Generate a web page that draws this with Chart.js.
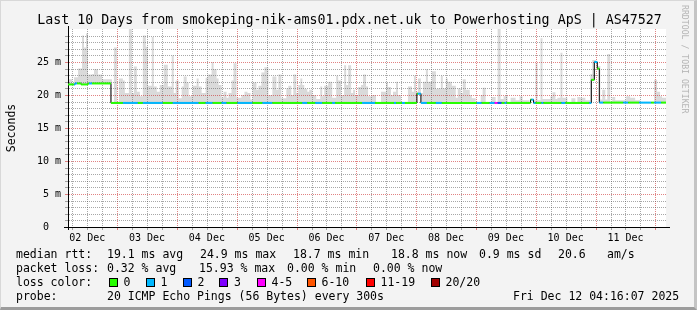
<!DOCTYPE html>
<html>
<head>
<meta charset="utf-8">
<script src="https://cdn.jsdelivr.net/npm/chart.js@4/dist/chart.umd.min.js"></script>
<style>
  body { margin: 0; background: #fff; }
  #wrap {
    position: relative; width: 697px; height: 310px; overflow: hidden;
    background: #f3f3f3; box-sizing: border-box;
    border-left: 1px solid #d8d8d8; border-top: 1px solid #d8d8d8;
    border-right: 3px solid #c4c4c4; border-bottom: 3px solid #9c9c9c;
    font-family: "DejaVu Sans Mono", monospace; color: #000;
  }
  #c { position: absolute; left: -1px; top: -1px; }
  .txt { position: absolute; white-space: pre; font-size: 11.5px; line-height: 14px; }
  .title { position: absolute; left: 0; width: 697px; top: 10px; text-align: center;
           font-size: 13.3px; line-height: 18px; white-space: pre; }
  .credit { position: absolute; left: 688px; top: 4px; transform-origin: 0 0; transform: rotate(90deg);
            font-size: 8.2px; color: #b4b4b4; white-space: pre; line-height: 9px; }
  .box { position: absolute; width: 7px; height: 7px; border: 1px solid #000; top: 277px; }
</style>
</head>
<body>
<div id="wrap">
  <canvas id="c" width="697" height="310"></canvas>
  <div class="title">Last 10 Days from smokeping-nik-ams01.pdx.net.uk to Powerhosting ApS | AS47527</div>
  <div class="credit">RRDTOOL / TOBI OETIKER</div>
  <div id="legend"></div>
</div>
<script>
// time axis: hours since 02 Dec 00:00, graph spans 02 Dec 04:16 .. 12 Dec 04:16
const tStart = 4.27;
const tEnd = 244.27;
const yMax = 30;

const dayLabels = ['02 Dec', '03 Dec', '04 Dec', '05 Dec', '06 Dec', '07 Dec', '08 Dec', '09 Dec', '10 Dec', '11 Dec'];
const yTickLabels = ['0  ', '5 m', '10 m', '15 m', '20 m', '25 m'];

// median rtt (ms), stepped: each value holds until the next time
const medianTimes = [4.3, 7.1, 9.5, 12.3, 21.5, 144.3, 145.9, 189.9, 191.1, 214.3, 215.5, 216.7, 217.5];
const medianRtt   = [21.6, 21.75, 21.6, 21.75, 18.8, 20.2, 18.8, 19.3, 18.8, 22.3, 25.0, 24.0, 18.85];

// smoke: highest ping per bin (ms), null = no smoke above the median
const smokeTimes = [4.3, 5.9, 6.7, 8.3, 9.9, 10.7, 11.5, 12.3, 13.9, 14.7, 16.3, 17.9, 20.3, 21.9, 22.7, 23.9,
  24.7, 26.3, 27.1, 28.7, 29.9, 30.7, 31.9, 33.1, 34.3, 35.5, 36.3, 37.9, 38.7, 39.9, 41.1, 42.7, 44.3, 45.9,
  46.7, 47.5, 48.7, 49.9, 50.7, 51.9, 52.7, 54.3, 55.9, 56.7, 57.9, 59.5, 60.3, 61.9, 62.7, 63.9, 64.7, 65.9,
  66.7, 67.9, 68.7, 69.9, 70.7, 71.9, 73.9, 75.1, 76.3, 77.5, 78.3, 79.9, 80.7, 81.9, 83.1, 84.7, 86.3, 87.9,
  88.7, 89.9, 91.9, 92.7, 93.9, 94.7, 95.9, 96.7, 97.5, 98.3, 99.1, 100.3, 101.1, 102.3, 103.9, 105.5, 106.3,
  107.1, 108.7, 110.3, 111.9, 112.7, 113.9, 115.1, 115.9, 116.7, 117.9, 118.7, 119.5, 120.7, 121.9, 122.7,
  123.9, 124.7, 126.3, 127.9, 129.9, 131.9, 132.7, 133.9, 134.7, 135.9, 136.7, 137.9, 140.7, 142.3, 143.1,
  143.9, 144.7, 145.9, 146.7, 147.9, 148.7, 150.3, 151.9, 152.7, 153.9, 154.7, 155.9, 156.7, 158.3, 159.9,
  160.7, 161.9, 162.7, 163.9, 165.5, 166.3, 167.9, 169.9, 170.7, 171.9, 174.3, 175.9, 176.7, 177.9, 179.1,
  179.9, 180.7, 181.9, 183.9, 185.5, 186.7, 189.5, 191.1, 191.9, 192.7, 193.9, 194.7, 197.9, 198.7, 199.9,
  200.7, 201.9, 202.7, 204.7, 206.3, 207.9, 208.7, 209.9, 211.9, 213.9, 214.7, 216.3, 217.9, 218.7, 219.9,
  220.7, 221.9, 222.7, 223.9, 228.3, 229.9, 231.9, 233.9, 239.5, 240.7, 241.9, 242.7];
const smokeMax = [22.4, 21.5, 22.7, 24.0, 29.0, 27.2, 29.3, 23.1, 23.2, 23.9, 23.1, 22.4, 22.4, null, 27.2, null,
  22.5, 22.2, 20.3, 30, 20.3, 24.3, 20.5, 19.8, 29, 27.3, 21.4, 28.8, 21.3, 20.5, 21.5, 24.6, 21.3, 26,
  20.3, 22.2, 19.5, 21.3, 22.8, 21.9, 19.8, 21.4, 22.5, 21.3, 20.3, 22.6, 23.1, 25.0, 23.9, 22.5, 21.5, 19.6,
  20.5, 19.6, 20.3, 22.2, 24.8, 19.6, 20.0, 20.5, 20.3, 19.3, 21.9, 20.8, 21.4, 23.4, 24.2, 20.0, 22.8, 20.8,
  23.1, 19.5, 21.0, 21.4, 20.0, 23.1, 20.3, 21.5, 22.5, 21.5, 20.9, 20.5, 20.8, 20.0, 19.4, 21.3, 19.8,
  21.4, 22.0, 19.6, 22.9, 22.2, 20.0, 24.5, 21.5, 24.5, 20.3, 20.8, 20.0, 21.2, 21.5, 23.1,
  21.3, 19.8, 20.0, null, 20.5, 21.9, 21.2, 20.0, 20.5, 22.0, 20.0, null, 21.3, 20.5, 22.9,
  20.5, 22.5, 20.3, 22.0, 23.9, 22.0, 23.6, 20.9, 21.0, 22.9, 21.0, 22.5, 22.0, 21.4, 19.6,
  21.0, 20.3, 22.4, 20.8, 20.0, 19.5, null, 20.0, 21.1, null, 19.7, null, 30, 19.4, 19.8,
  20.0, null, 19.6, 19.2, 19.8, 19.2, null, 19.2, 24.8, 19.2, 28.6, 19.4, 19.8, 20.4, 19.4,
  19.6, 26.4, 19.6, null, 19.5, null, 19.7, 19.6, 19.2, 23.2, 25.3, 24.4, 19.3, 20.8, 19.3,
  26.2, null, 19.7, 19.2, 19.8, 19.6, 19.2, null, 22.3, 20.5, 19.8, 19.6];

// packet loss class per period (index into lossLabels)
const lossTimes = [4.3, 6.7, 7.9, 12.7, 13.9, 26.3, 32.3, 34.3, 42.3, 46.3, 56.7, 59.5, 62.3, 65.9, 67.9, 72.3,
  78.3, 82.3, 86.3, 98.3, 100.3, 103.5, 106.3, 110.3, 111.5, 122.3, 127.5, 135.1, 135.9, 138.3, 139.5, 144.7,
  148.3, 151.9, 154.3, 168.3, 170.3, 173.5, 175.5, 176.7, 178.3, 179.5, 180.3, 190.3, 191.9, 194.3, 195.1,
  202.3, 203.9, 213.5, 214.3, 215.5, 216.7, 217.5, 219.1, 227.1, 229.1, 233.5, 238.3, 239.5, 242.3];
const lossClass = [0, 1, 0, 1, 0, 1, 0, 1, 0, 1, 0, 1, 0, 1, 0, 1,
  0, 1, 0, 1, 0, 1, 0, 1, 0, 1, 0, 1, 0, 1, 0, 1,
  0, 1, 0, 1, 0, 1, 4, 2, 0, 1, 0, 1, 0, 1, 0,
  1, 0, 1, 0, 1, 0, 1, 0, 1, 0, 1, 0, 1, 0];

const lossLabels = ['0', '1', '2', '3', '4-5', '6-10', '11-19', '20/20'];
const lossColors = ['#26ff00', '#00b8ff', '#0059ff', '#7e00ff', '#ff00ff', '#ff5500', '#ff0000', '#a10000'];

const statRows = [
  ['median rtt:', '19.1 ms avg', '24.9 ms max', '18.7 ms min', '18.8 ms now', '0.9 ms sd', '20.6', 'am/s'],
  ['packet loss:', '0.32 % avg', '15.93 % max', '0.00 % min', '0.00 % now'],
  ['probe:', '20 ICMP Echo Pings (56 Bytes) every 300s', 'Fri Dec 12 04:16:07 2025']
];

// lookups
function stepIndex(times, t) {
  let i = 0;
  while (i + 1 < times.length && times[i + 1] <= t + 1e-9) i++;
  return i;
}
const medianAt = t => medianRtt[stepIndex(medianTimes, t)];
const lossAt = t => lossClass[stepIndex(lossTimes, t)];

// smoke and its floor share the same time points
const allTimes = [...new Set([...smokeTimes, ...medianTimes, tEnd])].sort((a, b) => a - b);
const smokeTop = allTimes.map(t => {
  const v = t >= tEnd ? null : smokeMax[stepIndex(smokeTimes, t)];
  return {x: t, y: v == null ? medianAt(t) : Math.max(v, medianAt(t))};
});
const smokeFloor = allTimes.map(t => ({x: t, y: medianAt(t)}));
const medianLine = medianTimes.map((t, i) => ({x: t, y: medianRtt[i]})).concat([{x: tEnd, y: medianRtt[medianRtt.length - 1]}]);

// coloured median pieces: constant value and constant loss
const breaks = [...new Set([...medianTimes, ...lossTimes, tEnd])].sort((a, b) => a - b);
const medianPieces = [];
for (let i = 0; i < breaks.length - 1; i++) {
  const v = medianAt(breaks[i]);
  medianPieces.push({x: breaks[i], y: v}, {x: breaks[i + 1], y: v});
}

const monoFont = size => ({family: 'DejaVu Sans Mono', size: size});
const majorGrid = 'rgba(200, 30, 30, 0.55)';
const minorGrid = 'rgba(80, 80, 80, 0.5)';

const plotBg = {
  id: 'plotBg',
  beforeDraw(chart) {
    const {ctx, chartArea: a} = chart;
    ctx.save();
    ctx.fillStyle = '#ffffff';
    ctx.fillRect(a.left, a.top, a.right - a.left, a.bottom - a.top);
    ctx.restore();
  }
};

// dotted rrdtool-style grid, drawn over the smoke but under the median line
const rrdGrid = {
  id: 'rrdGrid',
  afterDatasetDraw(chart, args) {
    if (args.index !== 0) return;
    const {ctx, chartArea: a, scales: {x, y}} = chart;
    const left = Math.round(a.left), right = Math.round(a.right);
    const top = Math.round(a.top), bottom = Math.round(a.bottom);
    ctx.save();
    x.ticks.forEach(t => {
      const px = Math.round(x.getPixelForValue(t.value));
      ctx.fillStyle = t.value % 24 === 0 ? majorGrid : minorGrid;
      for (let py = top; py < bottom; py += 2) ctx.fillRect(px, py, 1, 1);
      ctx.fillRect(px, bottom, 1, 3);
    });
    y.ticks.forEach(t => {
      if (t.value === 0 || t.value >= yMax) return;
      const py = Math.round(y.getPixelForValue(t.value));
      ctx.fillStyle = t.value % 5 === 0 ? majorGrid : minorGrid;
      for (let px = left + 1; px < right; px += 2) ctx.fillRect(px, py, 1, 1);
      ctx.fillRect(left - 3, py, 3, 1);
    });
    // axis lines, slightly longer than the plot
    ctx.fillStyle = '#000';
    ctx.fillRect(left, top - 3, 1, bottom - top + 6);
    ctx.fillRect(left - 4, bottom, right - left + 8, 1);
    ctx.restore();
  }
};

new Chart(document.getElementById('c'), {
  type: 'line',
  data: {
    datasets: [{
      label: 'smoke',
      data: smokeTop,
      stepped: true,
      borderWidth: 0,
      borderColor: 'transparent',
      backgroundColor: '#dadada',
      pointRadius: 0,
      fill: 1,
      order: 5
    }, {
      label: 'floor',
      data: smokeFloor,
      stepped: true,
      borderWidth: 0,
      borderColor: 'transparent',
      pointRadius: 0,
      fill: false,
      order: 6
    }, {
      label: 'median',
      data: medianLine,
      stepped: true,
      borderWidth: 1,
      borderColor: '#000000',
      pointRadius: 0,
      fill: false,
      order: 2
    }, {
      label: 'loss',
      data: medianPieces,
      borderWidth: 2,
      borderCapStyle: 'butt',
      pointRadius: 0,
      fill: false,
      order: 1,
      segment: {
        borderColor: ctx => ctx.p0.parsed.y !== ctx.p1.parsed.y ? 'transparent'
          : lossColors[lossAt((ctx.p0.parsed.x + ctx.p1.parsed.x) / 2)]
      }
    }, {
      label: 'arrows',
      data: [{x: tStart, y: yMax + 0.75}, {x: tEnd + 1.7, y: 0}],
      showLine: false,
      pointStyle: 'triangle',
      pointRadius: 3.2,
      pointRotation: [0, 90],
      pointBackgroundColor: '#7f1f1f',
      pointBorderWidth: 0,
      clip: false,
      order: 0
    }]
  },
  options: {
    responsive: false,
    animation: false,
    layout: {padding: {left: 1, top: 29, right: 31, bottom: 0}},
    plugins: {legend: {display: false}, tooltip: {enabled: false}, title: {display: false}},
    scales: {
      x: {
        type: 'linear',
        min: tStart,
        max: tEnd,
        afterBuildTicks: scale => {
          scale.ticks = [];
          for (let h = 6; h < tEnd; h += 6) scale.ticks.push({value: h});
        },
        afterFit: scale => { scale.height = 83; },
        ticks: {
          autoSkip: false,
          maxRotation: 0,
          padding: 5,
          color: '#000',
          font: monoFont(10),
          callback: v => v % 24 === 12 ? dayLabels[Math.floor(v / 24)] : ''
        },
        grid: {display: false, drawTicks: false},
        border: {display: false}
      },
      y: {
        type: 'linear',
        min: 0,
        max: yMax,
        afterBuildTicks: scale => {
          scale.ticks = [];
          for (let v = 0; v <= yMax; v++) scale.ticks.push({value: v});
        },
        afterFit: scale => { scale.width = 67; },
        ticks: {
          autoSkip: false,
          padding: 7,
          color: '#000',
          font: monoFont(10),
          callback: v => v % 5 === 0 && v < yMax ? yTickLabels[v / 5] : ''
        },
        grid: {display: false, drawTicks: false},
        border: {display: false},
        title: {display: true, text: 'Seconds', color: '#000', font: monoFont(11.5), padding: {top: 4, bottom: 0}}
      }
    }
  },
  plugins: [plotBg, rrdGrid]
});

// text legend under the graph
const legend = document.getElementById('legend');
function addText(text, left, top) {
  const d = document.createElement('div');
  d.className = 'txt';
  d.textContent = text;
  d.style.left = left + 'px';
  d.style.top = top + 'px';
  legend.appendChild(d);
}
const rttCols = [15, 106, 199, 292, 390, 478, 557, 606];
statRows[0].forEach((s, i) => addText(s, rttCols[i], 246));
const lossCols = [15, 106, 198, 286, 372];
statRows[1].forEach((s, i) => addText(s, lossCols[i], 260));
addText('loss color:', 15, 274);
const boxCols = [107.5, 144.5, 181.5, 218, 255.5, 305.5, 364.5, 429.5];
lossLabels.forEach((lab, i) => {
  const b = document.createElement('div');
  b.className = 'box';
  b.style.left = boxCols[i] + 'px';
  b.style.background = lossColors[i];
  legend.appendChild(b);
  addText(lab, boxCols[i] + 15, 274);
});
const probeCols = [15, 106, 512];
statRows[2].forEach((s, i) => addText(s, probeCols[i], 288));
</script>
</body>
</html>
